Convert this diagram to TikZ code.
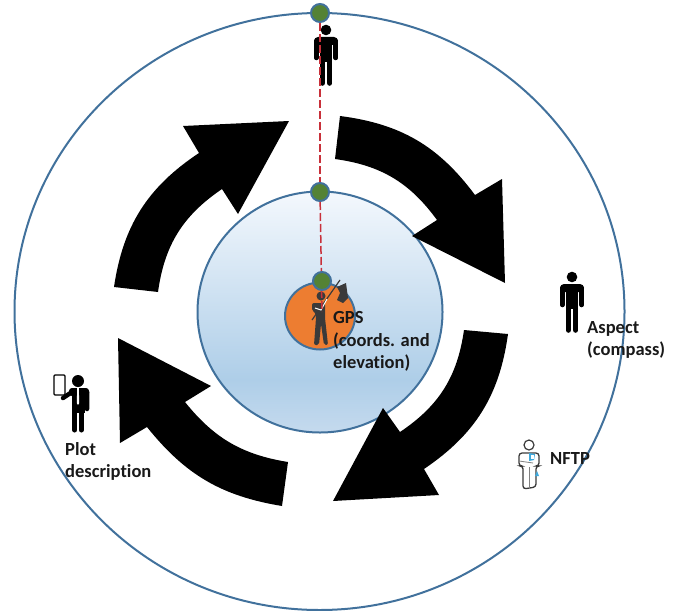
\documentclass[tikz,border=0pt]{standalone}
\usepackage{fontspec}
\setmainfont{Carlito}[Ligatures=NoCommon]
\usetikzlibrary{shapes.geometric}
\definecolor{ringblue}{HTML}{41719C}
\definecolor{dotgreen}{HTML}{548235}
\definecolor{gpsorange}{HTML}{ED7D31}
\definecolor{dashred}{HTML}{C8303A}
\definecolor{axegray}{HTML}{3A3A3A}
\definecolor{dropblue}{HTML}{3FA9DC}
\definecolor{discbottom}{HTML}{C5DAEE}
\definecolor{discmid}{HTML}{AECEE8}
\definecolor{disctop}{HTML}{F4F8FD}
\pgfdeclareverticalshading{discshade}{100bp}{
  color(0bp)=(discbottom);
  color(25bp)=(discbottom);
  color(36bp)=(discmid);
  color(75bp)=(disctop);
  color(100bp)=(disctop)}
\tikzset{
  ring/.style={ellipse, draw=ringblue, line width=2pt, inner sep=0pt},
  dot/.style={ring, fill=dotgreen, minimum width=18pt, minimum height=18pt},
  bigarrow/.style={fill=black},
  lbl/.style={anchor=north west, align=left, inner sep=0pt, text=black!90,
    font=\bfseries\fontsize{18.5}{22.7}\selectfont},
  person/.pic={
    \fill (0,0) circle (5.3);
    \fill[rounded corners=4] (-12,7) rectangle (12,15);
    \draw[line width=4.5pt, line cap=round] (-9.7,11)--(-9.7,28) (9.7,11)--(9.7,28);
    \fill (-6.3,9) rectangle (6.3,32);
    \draw[line width=5.6pt, line cap=round] (-3.6,30)--(-3.6,53) (3.6,30)--(3.6,53);
  },
  phoneperson/.pic={
    \fill (0,0) circle (6);
    \fill[rounded corners=3] (-9,7) rectangle (11,15);
    \draw[line width=4.5pt, line cap=round] (9,11)--(9,28) (-6,11)--(-15,17);
    \fill (-6,9) rectangle (6.5,32);
    \draw[line width=5pt, line cap=round] (-3.3,30)--(-3.3,49) (3.3,30)--(3.3,49);
    \fill[white] (-0.8,7)--(0.8,7)--(1.2,22)--(0,24)--(-1.2,22)--cycle;
    \draw[line width=1.3pt, fill=white, rounded corners=1] (-24,-6) rectangle (-13,14);
  },
  nftpperson/.pic={
    \draw[axegray, line width=1.2pt] (0,0) circle (5);
    \draw[axegray, line width=1.3pt, rounded corners=3] (-6,28)--(-6,21)--(-10,21)--(-10,8)--(10,8)--(10,21)--(7,21)--(7,42)--(-6,44)--cycle;
    \draw[gray, line width=0.8pt] (-10,16)--(4,18) (0.5,22)--(0.5,43);
    \fill[dropblue] (0,8)--(6,9)--(5,15)--(0,16)--cycle;
    \fill[white] (1.5,10) rectangle (4.5,13.5);
    \fill[dropblue] (8,26)--(10,31)--(6,31)--cycle;
  },
  axeperson/.pic={
    \fill (0,0) circle (4.5);
    \fill[rounded corners=2] (-9,7)--(4,7)--(4,22)--(7,49)--(3,49)--(0,28)--(-2,49)--(-7,49)--(-5,22)--(-5,17)--(-9,15)--cycle;
    \draw[line width=1.2pt] (-9,24)--(19,-16);
    \draw[white, line width=1pt] (-6,12)--(0,14)--(6,3);
    \fill (16,-9)--(25,-13)--(27,2)--(22,7)--(16,4)--(19,-3)--cycle;
  }
}
\begin{document}
\begin{tikzpicture}[x=1pt, y=-1pt]
  \useasboundingbox (0,0) rectangle (676,610);
  %rings
  \node[ring, minimum width=610pt, minimum height=597pt] (outerring) at (319.5,311.5) {};
  \node[ring, minimum width=245pt, minimum height=241pt, shading=discshade] (innerdisc) at (320,312) {};
  \node[ring, fill=gpsorange, minimum width=70pt, minimum height=67pt] (gpsdisc) at (320,316) {};

  %arrows
  \fill[bigarrow] (340,116) to[bend left=23] (475,195) -- (502,179) -- (505,283) -- (412,236) -- (437,220) to[bend right=23] (335,159) -- cycle;
  \fill[bigarrow] (508,334) to[bend left=24] (424,469) -- (439,495) -- (333,501) -- (383,408) -- (400,432) to[bend right=24] (464,330) -- cycle;
  \fill[bigarrow] (282,506) to[bend left=21] (147,427) -- (120,443) -- (118,338) -- (211,386) -- (185,402) to[bend right=21] (288,462) -- cycle;
  \fill[bigarrow] (114,287) to[bend left=24] (199,153) -- (183,126) -- (289,121) -- (238,214) -- (222,189) to[bend right=24] (158,292) -- cycle;

  %people
  \pic at (326,30) {person};
  \pic at (572,277) {person};
  \pic at (78,381) {phoneperson};
  \pic at (529,445) {nftpperson};
  \pic[axegray] at (321,296) {axeperson};

  %dots
  \node[dot] (topdot) at (320,13) {};
  \node[dot] (middot) at (320,192) {};
  \coordinate (gpsend) at (322,312);
  \draw[dashred, line width=1.5pt, dash pattern=on 8pt off 3pt] (topdot) -- (middot);
  \draw[dashred, line width=1.5pt, dash pattern=on 8pt off 3pt] (middot) -- (gpsend);
  \node[dot] (gpsdot) at (322,281) {};

  %labels
  \node[lbl] (gpslabel) at (333,311) {GPS\\(coords. and\\elevation)};
  \node[lbl] (aspectlabel) at (587,321) {Aspect\\(compass)};
  \node[lbl] (nftplabel) at (550,452) {NFTP};
  \node[lbl] (plotlabel) at (65,442) {Plot\\description};
\end{tikzpicture}
\end{document}
